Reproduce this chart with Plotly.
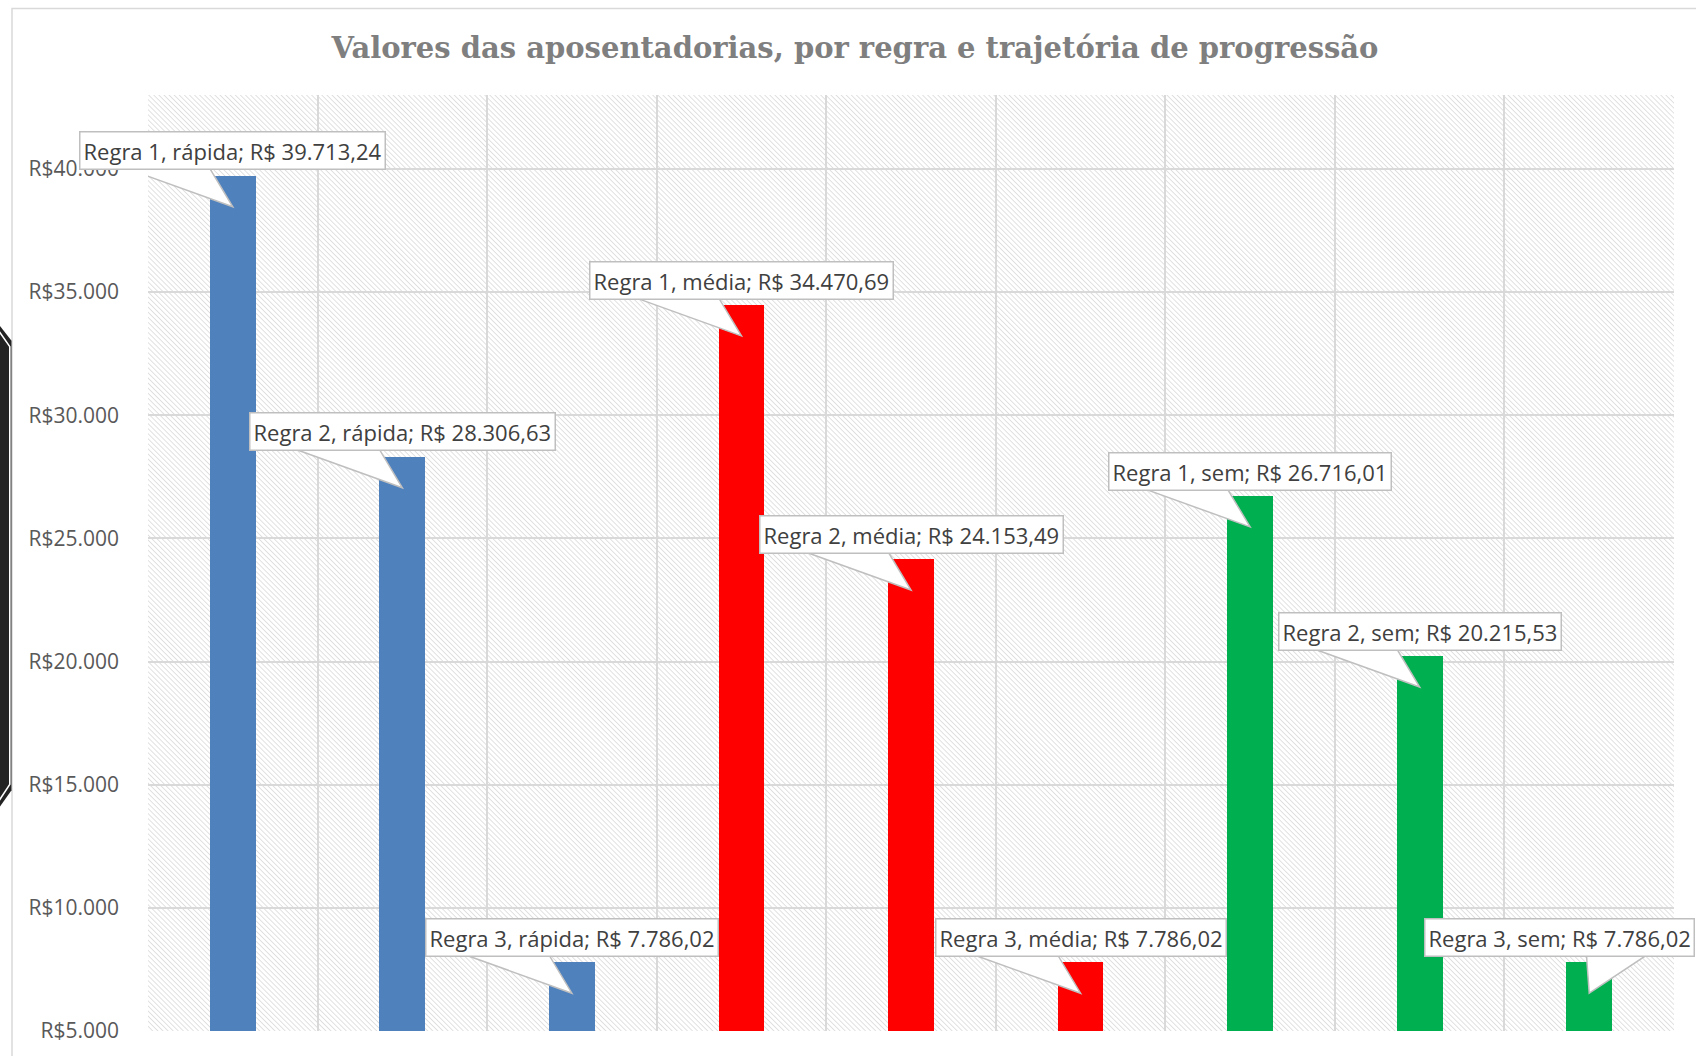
import base64
import plotly.graph_objects as go

# ---------------- data ----------------
titulo = "Valores das aposentadorias, por regra e trajetória de progressão"
regras = ["Regra 1", "Regra 2", "Regra 3"]
trajetorias = ["rápida", "média", "sem"]
valores_rapida = [39713.24, 28306.63, 7786.02]
valores_media = [34470.69, 24153.49, 7786.02]
valores_sem = [26716.01, 20215.53, 7786.02]
cores = ["#4F81BD", "#FF0000", "#00B050"]
y_tickvals = [5000, 10000, 15000, 20000, 25000, 30000, 35000, 40000]
y_ticktext = ["R$5.000", "R$10.000", "R$15.000", "R$20.000",
              "R$25.000", "R$30.000", "R$35.000", "R$40.000"]
y_range = [5000, 43000]

series = [valores_rapida, valores_media, valores_sem]

# ---------------- layout geometry ----------------
W, H = 1696, 1056
ML, MR, MT, MB = 148, 22, 95, 20
PW, PH = W - ML - MR, H - MT - MB
n_cat = len(regras) * len(trajetorias)
x_range = [0.5, n_cat + 0.5]
ux = (x_range[1] - x_range[0]) / PW          # data units per px (x)
uy = (y_range[1] - y_range[0]) / PH          # data units per px (y)


def px2paper_x(px):
    return (px - ML) / PW


def px2paper_y(py):
    return (H - MB - py) / PH


def brl(v):
    s = f"{v:,.2f}"
    return s.replace(",", "X").replace(".", ",").replace("X", ".")


fig = go.Figure()

annotations = []
shapes = []
for g, (traj, vals, cor) in enumerate(zip(trajetorias, series, cores)):
    xs = [g * len(regras) + r + 1 for r in range(len(regras))]
    fig.add_trace(go.Bar(
        x=xs, y=[v - y_range[0] for v in vals], base=y_range[0],
        width=0.27, marker=dict(color=cor, line=dict(width=0)),
        name=traj, showlegend=False, hoverinfo="skip",
    ))
    for xc, v, regra in zip(xs, vals, regras):
        last = xc == n_cat
        xshift = -30 if last else 0
        annotations.append(dict(
            x=xc, y=v, xref="x", yref="y", yshift=25, xshift=xshift,
            text=f"{regra}, {traj}; R$ {brl(v)}", showarrow=False,
            font=dict(family="Open Sans", size=22, color="#404040"),
            bgcolor="white", bordercolor="#bfbfbf", borderwidth=1.5,
            borderpad=3, xanchor="center", yanchor="middle",
        ))
        if last:
            b1, b2 = -3, 63
        else:
            b1, b2 = -116, -25
        yb = v + 11 * uy
        ytip = v - 31 * uy
        path = (f"M {xc + b1 * ux},{yb} L {xc},{ytip} "
                f"L {xc + b2 * ux},{yb} Z")
        shapes.append(dict(type="path", xref="x", yref="y", path=path,
                           fillcolor="white",
                           line=dict(color="#bfbfbf", width=1.5),
                           layer="above"))

# outer chart border
shapes.append(dict(type="rect", xref="paper", yref="paper",
                   x0=px2paper_x(12), x1=px2paper_x(W + 10),
                   y0=px2paper_y(H + 10), y1=px2paper_y(8),
                   line=dict(color="#d9d9d9", width=1.5),
                   fillcolor="rgba(0,0,0,0)", layer="below"))
# dark decoration on the left edge of the screenshot
pts = [(-4, 322), (11.5, 342), (11.5, 794), (-4, 816)]
shapes.append(dict(type="path", xref="paper", yref="paper",
                   path="M " + " L ".join(f"{px2paper_x(a)},{px2paper_y(b)}" for a, b in pts) + " Z",
                   fillcolor="#232323", line=dict(width=0), layer="above"))
wl = [(-2, 331), (9.8, 348), (9.8, 788), (-2, 806)]
shapes.append(dict(type="path", xref="paper", yref="paper",
                   path="M " + " L ".join(f"{px2paper_x(a)},{px2paper_y(b)}" for a, b in wl),
                   line=dict(color="white", width=1.6), layer="above"))

# hatched plot background
svg = (f'<svg xmlns="http://www.w3.org/2000/svg" width="{PW}" height="{PH}">'
       '<defs><pattern id="p" width="3.6" height="3.6" patternUnits="userSpaceOnUse" '
       'patternTransform="rotate(-45)"><line x1="0" y1="0" x2="0" y2="3.6" '
       'stroke="#c8c8c8" stroke-width="1.1"/></pattern></defs>'
       '<rect width="100%" height="100%" fill="white"/>'
       '<rect width="100%" height="100%" fill="url(#p)"/></svg>')
img_src = "data:image/svg+xml;base64," + base64.b64encode(svg.encode()).decode()

fig.update_layout(
    width=W, height=H,
    margin=dict(l=ML, r=MR, t=MT, b=MB),
    paper_bgcolor="white", plot_bgcolor="rgba(0,0,0,0)",
    title=dict(text=f"<b>{titulo}</b>", x=855 / W, xref="container",
               xanchor="center", y=1 - 48 / H, yref="container",
               yanchor="middle",
               font=dict(family="DejaVu Serif", size=29, color="#7f7f7f")),
    bargap=0, barmode="overlay",
    xaxis=dict(range=x_range, tickvals=[i + 0.5 for i in range(n_cat + 1)],
               showticklabels=False, showgrid=True, gridcolor="#d9d9d9",
               gridwidth=1.5, zeroline=False, ticks="", showline=False),
    yaxis=dict(range=y_range, tickvals=y_tickvals, ticktext=y_ticktext,
               showgrid=True, gridcolor="#d9d9d9", gridwidth=1.5,
               zeroline=False, ticks="", ticklabelstandoff=28,
               tickfont=dict(family="Open Sans", size=21, color="#595959")),
    annotations=annotations, shapes=shapes,
    images=[dict(source=img_src, xref="paper", yref="paper", x=0, y=1,
                 sizex=1, sizey=1, sizing="stretch", xanchor="left",
                 yanchor="top", layer="below")],
)

fig.write_html("out.html",
               config={"displayModeBar": False},
               post_script="document.body.style.margin='0';"
                           "document.body.style.overflow='hidden';")
